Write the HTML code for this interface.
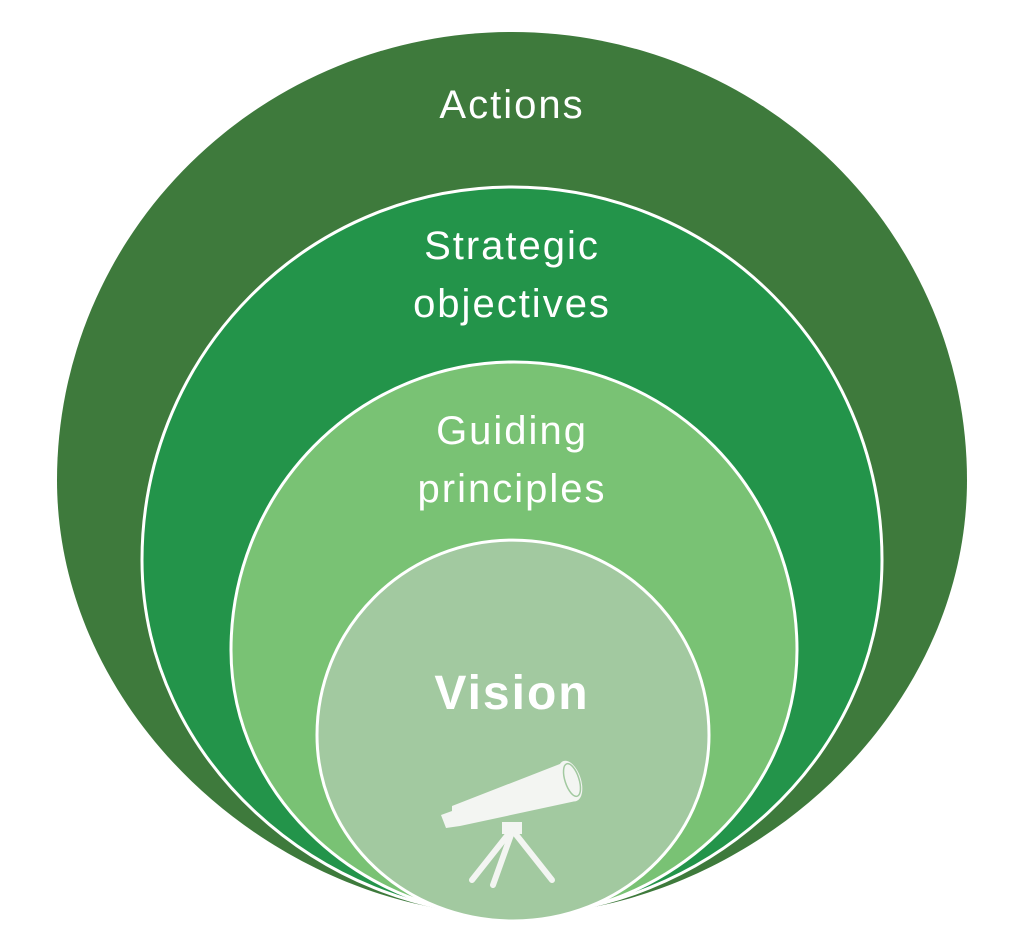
<!DOCTYPE html>
<html><head><meta charset="utf-8"><style>
body{margin:0;background:#fff}
svg{display:block}
text{font-family:"Liberation Sans",sans-serif;fill:#fff;text-anchor:middle;letter-spacing:2px}
</style></head><body>
<svg width="1024" height="936" viewBox="0 0 1024 936">
<path d="M57,480 A455,448 0 0 1 967,480 C967,720 742,915 512,915 C282,915 57,720 57,480Z" fill="#3e7a3c"/>
<path d="M142,560 A370,373 0 0 1 882,560 C882,760 702,915 512,915 C322,915 142,760 142,560Z" fill="#23944a" stroke="#fff" stroke-width="3"/>
<path d="M231,650 A283,288 0 0 1 797,650 C797,800 662,917 514,917 C366,917 231,800 231,650Z" fill="#79c274" stroke="#fff" stroke-width="3"/>
<path d="M317,735 A196,195 0 0 1 709,735 C709,840 620,921 513,921 C406,921 317,840 317,735Z" fill="#a2c9a0" stroke="#fff" stroke-width="3"/>
<text x="512" y="118" font-size="40">Actions</text>
<text x="512" y="259" font-size="40">Strategic</text>
<text x="512" y="317" font-size="40">objectives</text>
<text x="512" y="444" font-size="40">Guiding</text>
<text x="512" y="502" font-size="40">principles</text>
<text x="512" y="709" font-size="48" font-weight="bold">Vision</text>
<g fill="#f3f5f2">
<polygon points="441,815 452,811 452,806 565,762 576,801 460,826 446,828"/>
<ellipse cx="570" cy="781" rx="11" ry="21" transform="rotate(-18 570 781)"/>
<rect x="502" y="822" width="20" height="12"/>
</g>
<ellipse cx="572" cy="780" rx="7" ry="17" transform="rotate(-18 572 780)" fill="none" stroke="#a2c9a0" stroke-width="1.5"/>
<g stroke="#f3f5f2" stroke-width="6" stroke-linecap="round">
<line x1="510" y1="832" x2="472" y2="880"/>
<line x1="512" y1="832" x2="493" y2="885"/>
<line x1="514" y1="832" x2="552" y2="880"/>
</g>
</svg>
</body></html>
